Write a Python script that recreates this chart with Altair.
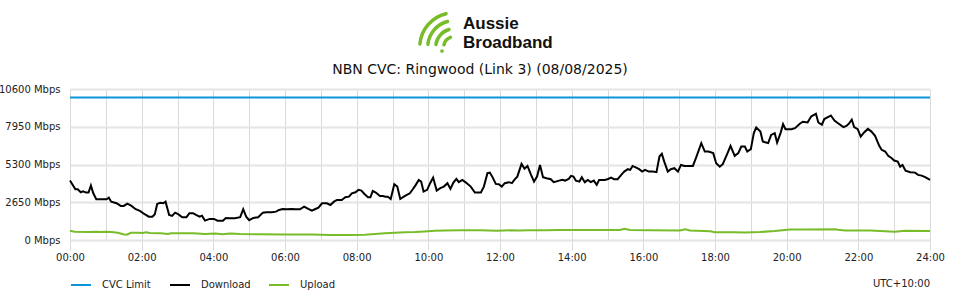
import altair as alt
import pandas as pd

# ---- data (minutes after midnight, Mbps) ----
download_min = [0, 9, 13, 18, 22, 27, 31, 35, 39, 44, 50, 55, 61, 65, 69, 78, 85, 90, 96, 103,
                110, 117, 125, 132, 138, 142, 146, 151, 156, 160, 166, 171, 176, 181, 188, 195,
                200, 206, 211, 217, 221, 226, 234, 241, 247, 256, 261, 268, 276, 285, 290, 295,
                300, 307, 315, 323, 329, 338, 345, 350, 356, 363, 371, 378, 385, 392, 399, 405,
                410, 416, 422, 430, 436, 442, 447, 455, 461, 467, 472, 478, 483, 488, 493, 499,
                503, 507, 512, 519, 524, 528, 532, 537, 543, 548, 553, 559, 564, 569, 574, 579,
                584, 588, 592, 598, 603, 608, 614, 620, 626, 632, 637, 642, 647, 651, 657, 663,
                671, 678, 688, 693, 699, 703, 707, 713, 718, 723, 728, 735, 740, 745, 749, 756,
                761, 766, 772, 777, 782, 787, 792, 798, 805, 810, 819, 824, 829, 835, 839, 843,
                847, 853, 857, 862, 867, 872, 877, 882, 886, 895, 900, 906, 911, 917, 923, 928,
                934, 938, 942, 948, 953, 958, 963, 969, 976, 982, 987, 991, 995, 1001, 1006, 1012,
                1018, 1023, 1029, 1038, 1043, 1049, 1057, 1063, 1069, 1077, 1082, 1088, 1093, 1101,
                1106, 1113, 1119, 1124, 1130, 1134, 1140, 1145, 1149, 1156, 1160, 1169, 1174, 1180,
                1184, 1190, 1194, 1198, 1208, 1214, 1222, 1227, 1235, 1241, 1249, 1253, 1259, 1263,
                1269, 1274, 1280, 1286, 1295, 1300, 1304, 1309, 1313, 1319, 1324, 1330, 1336, 1342,
                1348, 1355, 1359, 1365, 1370, 1376, 1380, 1386, 1390, 1394, 1399, 1407, 1415, 1420,
                1426, 1432, 1440]
download_mbps = [4170, 3560, 3560, 3350, 3420, 3330, 3330, 3820, 3280, 2860, 2860, 2860, 2860, 2970,
                 2690, 2580, 2390, 2390, 2550, 2390, 2160, 2040, 1810, 1640, 1640, 1810, 2530, 2620,
                 2580, 2690, 1760, 1690, 1920, 1810, 1600, 1600, 1880, 1880, 1760, 1640, 1710, 1360,
                 1480, 1480, 1360, 1360, 1550, 1530, 1530, 1600, 2160, 1640, 1390, 1550, 1600, 1920,
                 1950, 1950, 1990, 2110, 2180, 2160, 2180, 2160, 2160, 2340, 2180, 2060, 2160, 2270,
                 2580, 2580, 2460, 2690, 2810, 2810, 3000, 3040, 3280, 3350, 3520, 3470, 3230, 3000,
                 3000, 3450, 3330, 3090, 3090, 3040, 3040, 2880, 3920, 3750, 2880, 3040, 3160, 3280,
                 3560, 3870, 4220, 4100, 3400, 3520, 3990, 4380, 3470, 3640, 3750, 3990, 3590, 4030,
                 4290, 4060, 4220, 4030, 3750, 3330, 3330, 3750, 4690, 4730, 4450, 3940, 3920, 3750,
                 3990, 4060, 3990, 4270, 4450, 5340, 5010, 5200, 4570, 4100, 4450, 5270, 4410, 4340,
                 4270, 4060, 4170, 4220, 4170, 4290, 4500, 4450, 4170, 4100, 4410, 4060, 4220, 4060,
                 4170, 3870, 4220, 4220, 4270, 4380, 4270, 4270, 4570, 4800, 4970, 4920, 5200, 5080,
                 4970, 4800, 4920, 4800, 4800, 4760, 5860, 6050, 5500, 4800, 4970, 5040, 4800, 5270,
                 5200, 5200, 5200, 5860, 6800, 6210, 6210, 6100, 5390, 5150, 5320, 6100, 6610, 5910,
                 6100, 6560, 6560, 6210, 6380, 7500, 7900, 7610, 6910, 6800, 7380, 7500, 6840, 7540,
                 8130, 7780, 7780, 7850, 8160, 8300, 8250, 8670, 8860, 8250, 8090, 8490, 8630, 8740,
                 8390, 8200, 7920, 8010, 8160, 8440, 7920, 7780, 7260, 7570, 7800, 7610, 7310, 6610,
                 6330, 6210, 5910, 5740, 5580, 5500, 5150, 5270, 4870, 4760, 4730, 4570, 4520, 4410,
                 4220]

upload_min = [0, 8, 30, 44, 52, 59, 69, 80, 89, 95, 102, 114, 122, 127, 134, 152, 164, 169, 206,
              226, 243, 255, 268, 285, 318, 360, 405, 435, 469, 494, 511, 527, 544, 561, 578, 594,
              611, 628, 653, 687, 715, 737, 753, 770, 795, 820, 854, 887, 921, 928, 938, 971, 1021,
              1030, 1038, 1072, 1080, 1113, 1130, 1155, 1180, 1206, 1237, 1281, 1286, 1298, 1340,
              1381, 1398, 1440]
upload_mbps = [650, 580, 560, 580, 560, 580, 560, 510, 400, 370, 510, 510, 490, 540, 490, 470, 420,
               470, 470, 420, 460, 400, 460, 420, 400, 390, 390, 350, 350, 370, 420, 470, 510, 540,
               560, 600, 650, 670, 680, 680, 650, 680, 670, 680, 680, 700, 700, 700, 700, 790, 700,
               680, 670, 750, 670, 620, 540, 540, 530, 560, 630, 730, 740, 750, 720, 670, 670, 580,
               650, 630]

cvc_min = [0, 1440]
cvc_mbps = [10000, 10000]

series_names = ["CVC Limit", "Download", "Upload"]
series_colors = ["#0a96d8", "#000000", "#78bc2a"]
y_ticks = [0, 2650, 5300, 7950, 10600]
hour_ticks = list(range(0, 1441, 60))

title_text = "NBN CVC: Ringwood (Link 3) (08/08/2025)"
brand_lines = ["Aussie", "Broadband"]
tz_text = "UTC+10:00"

frames = []
for name, mins, vals in [("CVC Limit", cvc_min, cvc_mbps),
                         ("Download", download_min, download_mbps),
                         ("Upload", upload_min, upload_mbps)]:
    frames.append(pd.DataFrame({"minute": mins, "mbps": vals, "series": name}))
df = pd.concat(frames, ignore_index=True)

FONT = "DejaVu Sans"
GREEN = "#78bc2a"

x_enc = alt.X(
    "minute:Q",
    scale=alt.Scale(domain=[0, 1440], nice=False, zero=False),
    axis=alt.Axis(
        values=hour_ticks,
        labelExpr="datum.value % 120 == 0 ? pad(floor(datum.value / 60), 2, '0', 'left') + ':00' : ''",
        title=None,
        domain=False,
        grid=True,
        gridColor="#d9d9d9",
        gridWidth=1,
        tickColor="#d9d9d9",
        tickSize=10,
        tickOpacity={"condition": {"test": "datum.value % 120 != 0", "value": 0}, "value": 1},
        labelPadding=2,
        labelFlush=False,
        labelOverlap=False,
        labelFont=FONT,
        labelFontSize=10,
        labelColor="#222222",
    ),
)
y_enc = alt.Y(
    "mbps:Q",
    scale=alt.Scale(domain=[0, 10600], nice=False),
    axis=alt.Axis(
        values=y_ticks,
        labelExpr="datum.value + ' Mbps'",
        title=None,
        domain=False,
        ticks=False,
        grid=True,
        gridColor="#e4e4e4",
        gridWidth=2,
        labelPadding=10,
        labelFlush=False,
        labelFont=FONT,
        labelFontSize=10,
        labelColor="#222222",
    ),
)

lines = alt.Chart(df).mark_line(strokeWidth=2, interpolate="linear").encode(
    x=x_enc,
    y=y_enc,
    color=alt.Color(
        "series:N",
        scale=alt.Scale(domain=series_names, range=series_colors),
        sort=series_names,
        legend=alt.Legend(
            title=None,
            orient="none",
            legendX=0,
            legendY=185,
            direction="horizontal",
            symbolType="stroke",
            symbolStrokeWidth=2,
            symbolSize=400,
            labelOffset=10,
            columnPadding=14,
            gridAlign="all",
            padding=0,
            labelFont=FONT,
            labelFontSize=10,
            labelColor="#222222",
        ),
    ),
    detail="series:N",
)

one = alt.Data(values=[{"k": 1}])

title_layer = alt.Chart(one).mark_text(
    text=title_text, font=FONT, fontSize=14, color="#111111", align="center", baseline="middle"
).encode(x=alt.value(410), y=alt.value(-19))

brand_top = alt.Chart(one).mark_text(
    text=brand_lines[0], font="Liberation Sans", fontWeight="bold", fontSize=17,
    color="#111111", align="left", baseline="alphabetic"
).encode(x=alt.value(393), y=alt.value(-60))
brand_bottom = alt.Chart(one).mark_text(
    text=brand_lines[1], font="Liberation Sans", fontWeight="bold", fontSize=17,
    color="#111111", align="left", baseline="alphabetic"
).encode(x=alt.value(393), y=alt.value(-41))

arc_data = alt.Data(values=[{"r": 12, "r2": 8.5}, {"r": 20, "r2": 16.5},
                            {"r": 28, "r2": 24.5}, {"r": 36, "r2": 32.5}])
logo_arcs = alt.Chart(arc_data).mark_arc(
    theta=4.75, theta2=6.1, cornerRadius=2, color=GREEN
).encode(
    x=alt.value(384), y=alt.value(-42),
    radius=alt.Radius("r:Q", scale=None),
    radius2=alt.Radius2("r2:Q"),
)
logo_dot = alt.Chart(one).mark_circle(size=14, color=GREEN, opacity=1).encode(
    x=alt.value(372), y=alt.value(-38)
)

tz_layer = alt.Chart(one).mark_text(
    text=tz_text, font=FONT, fontSize=10, color="#222222", align="right", baseline="middle"
).encode(x=alt.value(860), y=alt.value(195))

chart = alt.layer(
    lines, title_layer, brand_top, brand_bottom, logo_arcs, logo_dot, tz_layer
).properties(
    width=860,
    height=151,
    autosize=alt.AutoSizeParams(type="none"),
    padding={"left": 70, "top": 89, "right": 30, "bottom": 60},
    background="#ffffff",
).configure_view(stroke=None)

chart.save("out.html", embed_options={"renderer": "svg", "actions": False})
